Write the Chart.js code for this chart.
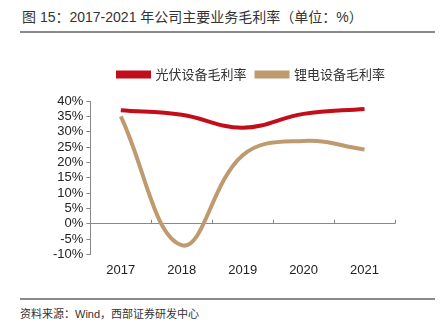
<!DOCTYPE html>
<html lang="zh">
<head>
  <meta charset="UTF-8">
  <title>2017-2021 年公司主要业务毛利率</title>
  <script src="https://cdn.jsdelivr.net/npm/chart.js"></script>
  <style>
    body { margin: 0; width: 445px; height: 332px; background: #fff; position: relative; overflow: hidden;
           font-family: "Liberation Sans", "Noto Sans CJK SC", sans-serif; color: #333; }
    .title { position: absolute; left: 22px; top: 6px; font-size: 14px; white-space: nowrap; }
    .rule { position: absolute; left: 20px; width: 415px; height: 2px; background: #8a8a8a; }
    .src { position: absolute; left: 20px; top: 305px; font-size: 11px; white-space: nowrap; }
    #wrap { position: absolute; left: 0; top: 58px; width: 445px; height: 220px; }
  </style>
</head>
<body>
  <div class="title">图 15：2017-2021 年公司主要业务毛利率（单位：%）</div>
  <div class="rule" style="top:31px"></div>
  <div id="wrap"><canvas id="c"></canvas></div>
  <div class="rule" style="top:298px"></div>
  <div class="src">资料来源：Wind，西部证券研发中心</div>
  <script>
    // data
    const years = ['2017', '2018', '2019', '2020', '2021'];
    const pvMargin = [37.0, 35.5, 31.3, 35.8, 37.4];   // 光伏设备毛利率
    const liMargin = [35.0, -7.0, 22.3, 27.0, 24.2];   // 锂电设备毛利率

    // extra room under the legend
    const legendGap = {
      id: 'legendGap',
      beforeInit(chart) {
        const fit = chart.legend.fit;
        chart.legend.fit = function () {
          fit.bind(chart.legend)();
          this.height += 10;
        };
      }
    };

    // small tick marks on the zero line at category boundaries
    const zeroTicks = {
      id: 'zeroTicks',
      afterDraw(chart) {
        const x = chart.scales.x, y = chart.scales.y, c = chart.ctx;
        const y0 = y.getPixelForValue(0);
        const half = (x.getPixelForValue(1) - x.getPixelForValue(0)) / 2;
        c.save();
        c.strokeStyle = '#888';
        c.lineWidth = 1;
        for (let i = 0; i < years.length; i++) {
          const px = Math.round(x.getPixelForValue(i) + half) + 0.5;
          c.beginPath();
          c.moveTo(px, y0);
          c.lineTo(px, y0 - 4);
          c.stroke();
        }
        c.restore();
      }
    };

    new Chart(document.getElementById('c'), {
      type: 'line',
      data: {
        labels: years,
        datasets: [
          { label: '光伏设备毛利率', data: pvMargin, borderColor: '#C30D1B', backgroundColor: '#C30D1B',
            borderWidth: 4, pointRadius: 0, tension: 0.4 },
          { label: '锂电设备毛利率', data: liMargin, borderColor: '#BF9A6E', backgroundColor: '#BF9A6E',
            borderWidth: 4, pointRadius: 0, tension: 0.4 }
        ]
      },
      options: {
        responsive: true,
        maintainAspectRatio: false,
        animation: false,
        layout: { padding: { left: 50, right: 50, top: 0, bottom: 0 } },
        plugins: {
          legend: {
            position: 'top',
            align: 'end',
            labels: { boxWidth: 31, boxHeight: 4, color: '#333', padding: 10,
                      font: { size: 13, family: '"Noto Sans CJK SC", sans-serif' } }
          },
          tooltip: { enabled: false }
        },
        scales: {
          x: {
            offset: true,
            grid: { display: false },
            border: { display: false },
            ticks: { color: '#222', padding: 0, font: { size: 13, family: '"Liberation Sans", Arial' } }
          },
          y: {
            min: -10, max: 40,
            ticks: { stepSize: 5, autoSkip: false, color: '#222', padding: 3,
                     font: { size: 13, family: '"Liberation Sans", Arial' },
                     callback: v => v + '%' },
            grid: {
              drawOnChartArea: true,
              tickLength: 4,
              color: ctx => ctx.tick && ctx.tick.value === 0 ? '#888' : 'rgba(0,0,0,0)',
              tickColor: '#888'
            },
            border: { display: true, color: '#888' }
          }
        }
      },
      plugins: [legendGap, zeroTicks]
    });
  </script>
</body>
</html>
